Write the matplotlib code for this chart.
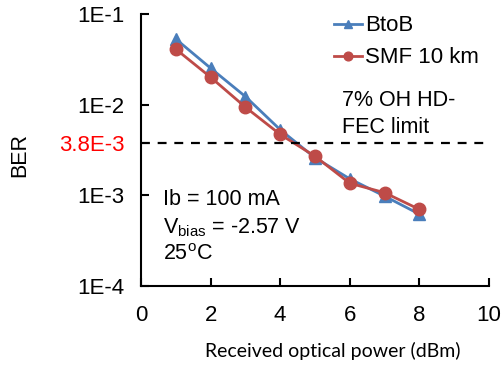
import matplotlib
matplotlib.use("Agg")
import matplotlib.pyplot as plt

power = [1, 2, 3, 4, 5, 6, 7, 8]
ber_btob = [0.053, 0.0253, 0.0123, 0.0053, 0.0026, 0.00152, 0.00098, 0.00062]
ber_smf = [0.041, 0.0201, 0.0094, 0.0047, 0.0027, 0.00136, 0.00107, 0.0007]
fec_limit = 3.8e-3
ytick_vals = [1e-4, 1e-3, 3.8e-3, 1e-2, 1e-1]
ytick_labels = ["1E-4", "1E-3", "3.8E-3", "1E-2", "1E-1"]
xtick_vals = [0, 2, 4, 6, 8, 10]

plt.rcParams['font.family'] = ['Liberation Sans', 'DejaVu Sans']

fig = plt.figure(figsize=(5.01, 3.65), dpi=100)
ax = fig.add_axes([0.2814, 0.2164, 0.976 - 0.2814, 0.9616 - 0.2164])

blue = "#4A7EBB"
red = "#BE4B48"
ax.plot(power, ber_btob, color=blue, marker="^", markersize=8, lw=2, label="BtoB")
ax.plot(power, ber_smf, color=red, marker="o", markersize=9, lw=2, label="SMF 10 km")
ax.axhline(fec_limit, color="black", lw=1.6, dashes=(4, 3.5))

ax.set_yscale("log")
ax.set_ylim(1e-4, 1e-1)
ax.set_xlim(0, 10)
ax.set_yticks(ytick_vals)
ax.set_yticklabels(ytick_labels)
ax.minorticks_off()
ax.set_xticks(xtick_vals)
for lbl in ax.get_yticklabels():
    if lbl.get_text() == "3.8E-3":
        lbl.set_color("red")
ax.tick_params(axis="both", direction="in", length=6, width=1.5, labelsize=16)
ax.tick_params(axis="y", pad=12)
ax.tick_params(axis="x", pad=14)
yt = ax.yaxis.get_major_ticks()
yt[2].tick1line.set_visible(False)

for s in ["top", "right"]:
    ax.spines[s].set_visible(False)
for s in ["left", "bottom"]:
    ax.spines[s].set_linewidth(1.5)

ax.set_xlabel("Received optical power (dBm)", fontsize=14, family="Lato")
ax.xaxis.set_label_coords(0.552, -0.205)
ax.set_ylabel("BER", fontsize=15.5)
ax.yaxis.set_label_coords(-0.318, 0.48)

ax.legend(loc="upper left", bbox_to_anchor=(0.555, 0.995), frameon=False, fontsize=16,
          handlelength=1.25, handletextpad=0.15, labelspacing=0.5, borderaxespad=0,
          borderpad=0, markerscale=0.7)

ax.text(5.78, 9.75e-3, "7% OH HD-", fontsize=15.5, va="baseline", ha="left")
ax.text(5.78, 4.92e-3, "FEC limit", fontsize=15.5, va="baseline", ha="left")
ax.text(0.62, 7.76e-4, "Ib = 100 mA", fontsize=15.5, va="baseline", ha="left")
ax.text(0.62, 3.82e-4, "V$_{\\mathregular{bias}}$ = -2.57 V", fontsize=15.5, va="baseline", ha="left")
ax.text(0.62, 1.93e-4, "25$^{\\mathregular{o}}$C", fontsize=15.5, va="baseline", ha="left")

fig.savefig("out.png", dpi=100)
